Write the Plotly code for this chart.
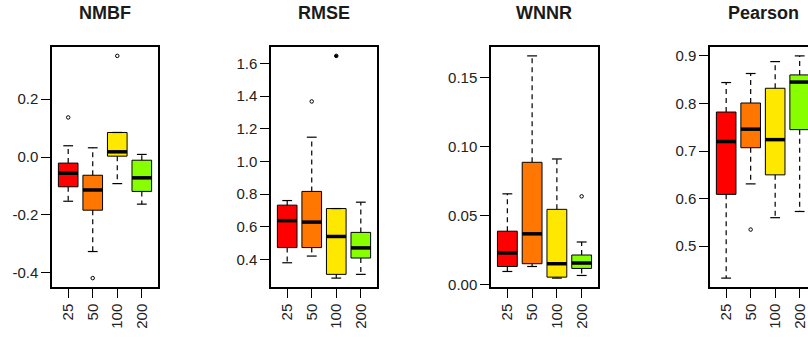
import plotly.graph_objects as go

# ---------------- data ----------------
categories = ["25", "50", "100", "200"]
panel_titles = ["NMBF", "RMSE", "WNNR", "Pearson"]

nmbf_lower = [-0.153, -0.327, -0.092, -0.163]
nmbf_q1 = [-0.103, -0.184, 0.003, -0.119]
nmbf_median = [-0.056, -0.114, 0.018, -0.072]
nmbf_q3 = [-0.021, -0.063, 0.085, -0.011]
nmbf_upper = [0.039, 0.032, 0.085, 0.009]
nmbf_outliers = [[0.137], [-0.419], [0.350], []]

rmse_lower = [0.379, 0.420, 0.285, 0.308]
rmse_q1 = [0.472, 0.472, 0.308, 0.408]
rmse_median = [0.637, 0.628, 0.540, 0.470]
rmse_q3 = [0.732, 0.816, 0.711, 0.565]
rmse_upper = [0.760, 1.148, 0.711, 0.750]
rmse_outliers = [[], [1.367], [1.646, 1.646], []]

wnnr_lower = [0.0097, 0.0133, 0.0049, 0.0068]
wnnr_q1 = [0.0133, 0.0153, 0.0056, 0.0119]
wnnr_median = [0.0231, 0.0369, 0.0153, 0.0158]
wnnr_q3 = [0.0388, 0.0886, 0.0546, 0.0216]
wnnr_upper = [0.0658, 0.1655, 0.0910, 0.0310]
wnnr_outliers = [[], [], [], [0.064]]

pearson_lower = [0.433, 0.631, 0.560, 0.573]
pearson_q1 = [0.609, 0.707, 0.650, 0.745]
pearson_median = [0.720, 0.746, 0.724, 0.845]
pearson_q3 = [0.782, 0.801, 0.832, 0.860]
pearson_upper = [0.844, 0.863, 0.888, 0.900]
pearson_outliers = [[], [0.535], [], []]

nmbf_ticks = [-0.4, -0.2, 0.0, 0.2]
nmbf_ticktext = ["-0.4", "-0.2", "0.0", "0.2"]
rmse_ticks = [0.4, 0.6, 0.8, 1.0, 1.2, 1.4, 1.6]
rmse_ticktext = ["0.4", "0.6", "0.8", "1.0", "1.2", "1.4", "1.6"]
wnnr_ticks = [0.0, 0.05, 0.10, 0.15]
wnnr_ticktext = ["0.00", "0.05", "0.10", "0.15"]
pearson_ticks = [0.5, 0.6, 0.7, 0.8, 0.9]
pearson_ticktext = ["0.5", "0.6", "0.7", "0.8", "0.9"]

# ---------------- style ----------------
box_colors = ["#FF0000", "#FF7700", "#FFE800", "#88FF00"]
W, H = 808, 340
panel_px = [(52, 158), (271, 377), (491, 598), (710, 808)]
y_top_px, y_bot_px = 47, 287
xranges = [[0.34, 4.66], [0.34, 4.66], [0.34, 4.66], [0.34, 4.34]]
FONT = "Liberation Sans, Arial, sans-serif"

panels = [
    (nmbf_lower, nmbf_q1, nmbf_median, nmbf_q3, nmbf_upper, nmbf_outliers, nmbf_ticks, nmbf_ticktext),
    (rmse_lower, rmse_q1, rmse_median, rmse_q3, rmse_upper, rmse_outliers, rmse_ticks, rmse_ticktext),
    (wnnr_lower, wnnr_q1, wnnr_median, wnnr_q3, wnnr_upper, wnnr_outliers, wnnr_ticks, wnnr_ticktext),
    (pearson_lower, pearson_q1, pearson_median, pearson_q3, pearson_upper, pearson_outliers, pearson_ticks, pearson_ticktext),
]

fig = go.Figure()
layout_axes = {}
annotations = []
xs = [1, 2, 3, 4]
bw = 0.8
for p, (lo, q1, med, q3, up, outl, tv, tt) in enumerate(panels):
    k = "" if p == 0 else str(p + 1)
    xa, ya = "x" + k, "y" + k
    # boxes
    fig.add_trace(go.Bar(
        x=xs, y=[b - a for a, b in zip(q1, q3)], base=q1, width=bw,
        marker=dict(color=box_colors, line=dict(color="black", width=1)),
        xaxis=xa, yaxis=ya, showlegend=False, hoverinfo="skip"))
    # whiskers (dashed)
    wx, wy = [], []
    for i, x in enumerate(xs):
        wx += [x, x, None, x, x, None]
        wy += [q3[i], up[i], None, q1[i], lo[i], None]
    fig.add_trace(go.Scatter(x=wx, y=wy, mode="lines",
                             line=dict(color="black", width=1.2, dash="5px,4px"),
                             xaxis=xa, yaxis=ya, showlegend=False, hoverinfo="skip"))
    # caps
    cx, cy = [], []
    for i, x in enumerate(xs):
        cx += [x - bw / 4, x + bw / 4, None, x - bw / 4, x + bw / 4, None]
        cy += [up[i], up[i], None, lo[i], lo[i], None]
    fig.add_trace(go.Scatter(x=cx, y=cy, mode="lines",
                             line=dict(color="black", width=1.2),
                             xaxis=xa, yaxis=ya, showlegend=False, hoverinfo="skip"))
    # medians
    mx, my = [], []
    for i, x in enumerate(xs):
        mx += [x - bw / 2, x + bw / 2, None]
        my += [med[i], med[i], None]
    fig.add_trace(go.Scatter(x=mx, y=my, mode="lines",
                             line=dict(color="black", width=3.5),
                             xaxis=xa, yaxis=ya, showlegend=False, hoverinfo="skip"))
    # outliers (coinciding points drawn filled)
    ox, oy, osym = [], [], []
    for i, x in enumerate(xs):
        for v in sorted(set(outl[i])):
            ox.append(x)
            oy.append(v)
            osym.append("circle" if outl[i].count(v) > 1 else "circle-open")
    if ox:
        fig.add_trace(go.Scatter(x=ox, y=oy, mode="markers",
                                 marker=dict(symbol=osym, size=3.5, color="black",
                                             line=dict(width=1, color="black")),
                                 xaxis=xa, yaxis=ya, showlegend=False, hoverinfo="skip",
                                 cliponaxis=False))
    # axes
    lo_all = min(lo + [v for o in outl for v in o])
    hi_all = max(up + [v for o in outl for v in o])
    pad = (hi_all - lo_all) * 0.04
    x0, x1 = panel_px[p]
    layout_axes["xaxis" + k] = dict(
        domain=[x0 / W, x1 / W], range=xranges[p], anchor=ya,
        tickvals=xs, ticktext=categories, tickangle=-90,
        ticks="outside", ticklen=9, tickwidth=1, tickcolor="black",
        showline=True, mirror=True, linecolor="black", linewidth=1.5,
        showgrid=False, zeroline=False, automargin=False,
        tickfont=dict(family=FONT, size=15, color="#222"))
    layout_axes["yaxis" + k] = dict(
        domain=[(H - y_bot_px) / H, (H - y_top_px) / H],
        range=[lo_all - pad, hi_all + pad], anchor=xa,
        tickvals=tv, ticktext=tt,
        ticks="outside", ticklen=9, tickwidth=1, tickcolor="black",
        showline=True, mirror=True, linecolor="black", linewidth=1.5,
        showgrid=False, zeroline=False, automargin=False,
        tickfont=dict(family=FONT, size=15, color="#222"))
    cxp = (panel_px[p][0] + (panel_px[p][0] + 106)) / 2
    annotations.append(dict(
        text="<b>" + panel_titles[p] + "</b>", x=cxp / W, y=1 - 13.5 / H,
        xref="paper", yref="paper", xanchor="center", yanchor="middle",
        showarrow=False, font=dict(family=FONT, size=18, color="#1a1a1a")))

fig.update_layout(
    width=W, height=H, margin=dict(l=0, r=0, t=0, b=0),
    paper_bgcolor="white", plot_bgcolor="white",
    barmode="overlay", annotations=annotations, **layout_axes)

fig.write_html("out.html", config={"displayModeBar": False},
               post_script="document.body.style.margin='0';document.body.style.overflow='hidden';")
